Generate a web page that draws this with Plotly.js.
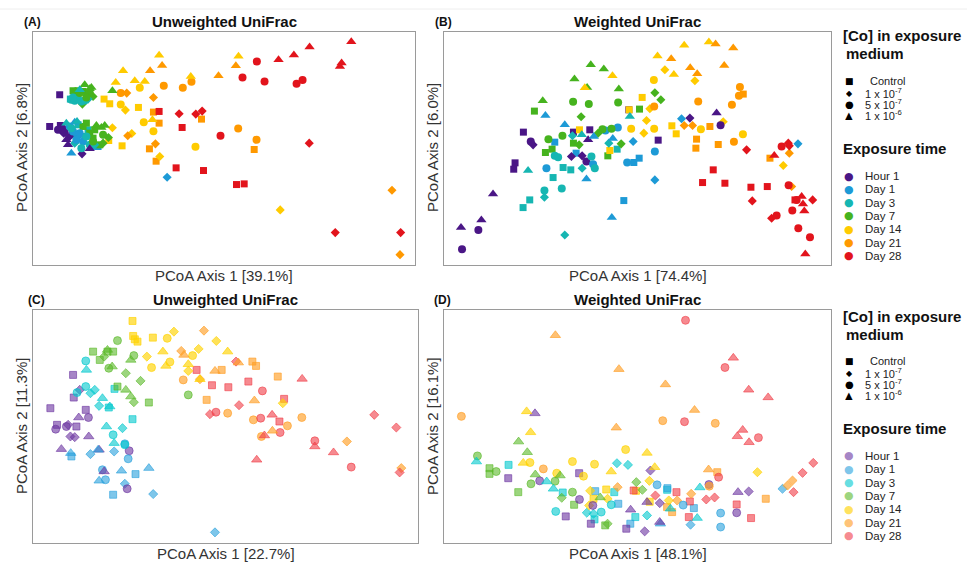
<!DOCTYPE html>
<html>
<head>
<meta charset="utf-8">
<script src="https://cdn.plot.ly/plotly-3.0.1.min.js"></script>
<style>html,body{margin:0;padding:0;background:#fff;}#chart{width:967px;height:564px;}</style>
</head>
<body>
<div id="chart"></div>
<script>
// ---------- categories ----------
const times = ["Hour 1", "Day 1", "Day 3", "Day 7", "Day 14", "Day 21", "Day 28"];
const concLabels = ["Control", "1 x 10<sup>-7</sup>", "5 x 10<sup>-7</sup>", "1 x 10<sup>-6</sup>"];
const panelTitles = ["Unweighted UniFrac", "Weighted UniFrac", "Unweighted UniFrac", "Weighted UniFrac"];
const panelLetters = ["(A)", "(B)", "(C)", "(D)"];
const axis1Labels = ["PCoA Axis 1 [39.1%]", "PCoA Axis 1 [74.4%]", "PCoA Axis 1 [22.7%]", "PCoA Axis 1 [48.1%]"];
const axis2Labels = ["PCoA Axis 2 [6.8%]", "PCoA Axis 2 [6.0%]", "PCoA Axis 2 [11.3%]", "PCoA Axis 2 [16.1%]"];

// ---------- data: [timeIndex, concIndex, PCoA1, PCoA2] (arbitrary units) ----------
const pointsA = [
 [0,0,80,510],[3,0,120,522],[3,0,135,522],[3,0,150,520],[3,0,128,518],
 [3,3,155,540],[3,3,175,532],[3,3,238,522],[3,3,170,528],
 [2,2,115,495],[2,2,125,492],[2,2,135,498],[2,2,145,490],[2,2,120,502],[2,2,155,493],
 [2,0,130,500],[2,0,112,497],[3,2,170,515],[3,2,160,502],[3,2,140,515],
 [3,1,148,482],[3,1,180,505],[2,1,165,497],[2,3,140,525],
 [0,0,50,415],[0,0,82,418],[0,2,75,405],[0,2,88,410],[0,2,95,398],
 [0,3,105,360],[0,3,170,348],[0,3,100,375],[0,1,147,333],[0,1,110,385],[0,1,92,395],
 [1,2,120,400],[1,2,140,395],[1,2,130,375],[1,2,150,370],[1,2,110,415],
 [1,3,115,335],[1,3,125,428],[1,0,175,355],[1,0,195,355],[1,0,118,390],[1,1,135,385],
 [2,2,115,410],[2,2,160,385],[2,2,170,360],[2,2,145,350],
 [2,0,135,420],[2,0,165,405],[2,0,155,385],[2,3,100,425],[2,3,132,430],[2,1,125,365],[2,1,185,360],
 [3,0,150,415],[3,0,170,395],[3,0,180,380],[3,0,185,405],[3,0,200,360],[3,0,160,425],
 [3,3,190,418],[3,3,205,412],[3,3,215,418],[3,2,180,370],[3,2,210,390],[3,1,210,365],[3,1,226,382],
 [4,3,378,628],[4,3,270,582],[4,3,248,547],[4,3,305,552],[4,3,335,550],[4,3,473,565],[4,3,616,625],[4,3,358,435],
 [4,2,320,531],[4,2,263,481],[4,2,332,428],[4,2,361,401],[4,2,487,354],
 [4,0,213,497],[4,0,230,483],[4,0,316,472],[4,0,267,357],[4,0,227,373],
 [4,1,277,464],[4,1,238,411],[4,1,296,394],[4,1,380,325],[4,1,741,165],
 [1,1,402,263],
 [5,3,351,582],[5,3,387,598],[5,3,608,597],[5,3,556,567],
 [5,2,392,537],[5,2,449,531],[5,2,475,549],[5,2,263,515],[5,2,615,409],[5,2,670,375],
 [5,0,361,458],[5,0,378,425],[5,0,505,437],[5,0,349,348],[5,0,369,311],[5,0,663,346],
 [5,1,281,515],[5,1,361,502],[5,1,284,387],[5,1,367,363],[5,1,1076,224],[5,1,1100,31],
 [6,3,736,615],[6,3,782,629],[6,3,829,653],[6,3,954,669],[6,3,925,605],[6,3,920,595],
 [6,2,671,610],[6,2,628,562],[6,2,694,550],[6,2,790,543],[6,2,808,554],[6,2,562,387],
 [6,0,378,460],[6,0,447,412],[6,0,429,291],[6,0,511,283],[6,0,610,241],[6,0,633,243],
 [6,1,438,453],[6,1,488,452],[6,1,507,461],[6,1,828,365],[6,1,906,97],[6,1,1102,97]
];

const pointsB = [
 [0,3,51,112],[0,3,112,135],[0,3,147,213],[0,3,817,455],[0,3,432,375],
 [0,2,54,47],[0,2,103,105],[0,2,427,310],[0,2,829,419],[0,2,260,370],
 [0,0,238,398],[0,0,213,306],[0,0,209,287],[0,0,388,398],[0,0,437,405],[0,0,642,374],[0,0,554,465],
 [0,1,267,360],[0,1,414,327],[0,1,382,325],[0,1,737,440],
 [1,3,304,448],[1,3,362,420],[1,3,427,258],[1,3,503,142],[1,3,506,379],[1,3,449,385],
 [1,2,307,290],[1,2,484,403],[1,2,521,412],[1,2,549,307],[1,2,632,340],[1,2,447,302],
 [1,0,332,368],[1,0,396,335],[1,0,539,193],[1,0,569,307],[1,0,585,320],
 [1,1,712,438],[1,1,632,255],[1,1,1061,363],[1,1,567,370],
 [2,3,252,283],[2,3,557,445],[2,3,413,390],
 [2,2,301,223],[2,2,353,229],[2,2,332,327],[2,2,342,323],[2,2,452,290],[2,2,442,325],
 [2,0,237,172],[2,0,257,195],[2,0,327,262],[2,0,357,292],[2,0,380,285],[2,0,519,347],
 [2,1,301,203],[2,1,362,90],[2,1,414,290],[2,1,385,387],[2,1,494,365],
 [3,3,296,492],[3,3,391,557],[3,3,440,600],[3,3,479,587],[3,3,429,532],[3,3,524,527],
 [3,2,387,489],[3,2,434,482],[3,2,522,487],[3,2,313,377],[3,2,355,387],[3,2,502,408],[3,2,475,407],
 [3,0,271,461],[3,0,304,337],[3,0,324,347],[3,0,388,365],[3,0,491,327],[3,0,586,467],
 [3,1,411,444],[3,1,405,360],[3,1,462,395],[3,1,531,363],[3,1,632,516],[3,1,650,495],
 [4,3,720,658],[4,3,794,668],[4,3,640,626],[4,3,689,571],[4,3,505,567],[4,3,422,531],
 [4,2,629,554],[4,2,561,408],[4,2,630,408],[4,2,770,407],[4,2,896,392],
 [4,0,594,502],[4,0,555,465],[4,0,683,417],[4,0,696,393],[4,0,497,343],[4,0,406,405],
 [4,1,662,585],[4,1,752,552],[4,1,617,468],[4,1,607,433],[4,1,599,395],[4,1,837,429],[4,1,1017,298],
 [5,3,814,662],[5,3,867,650],[5,3,681,618],[5,3,738,591],[5,3,759,573],[5,3,840,598],
 [5,2,630,475],[5,2,762,490],[5,2,863,480],[5,2,887,533],[5,2,884,507],[5,2,869,369],
 [5,0,897,512],[5,0,797,415],[5,0,757,377],[5,0,755,350],[5,0,822,361],[5,0,977,320],
 [5,1,720,418],[5,1,745,418],[5,1,1035,335],[5,1,1042,235],
 [6,3,990,328],[6,3,1072,205],[6,3,1076,183],[6,3,1080,162],[6,3,1083,33],
 [6,2,1012,355],[6,2,1033,239],[6,2,1057,195],[6,2,1044,163],[6,2,997,148],[6,2,1062,110],[6,2,1097,83],
 [6,0,775,247],[6,0,807,285],[6,0,842,245],[6,0,920,233],[6,0,969,235],[6,0,1052,195],
 [6,1,907,345],[6,1,1032,365],[6,1,1035,357],[6,1,924,192],[6,1,982,140],[6,1,1105,195]
];

const pointsC = [
 [0,0,52,405],[0,0,120,505],[0,0,122,437],[0,0,158,400],[0,0,72,355],[0,0,130,350],
 [0,2,68,342],[0,2,100,350],[0,2,166,377],[0,2,288,277],[0,2,282,163],
 [0,3,85,282],[0,3,137,377],[0,3,167,320],[0,3,198,280],[0,3,213,215],
 [0,1,112,320],[0,1,125,318],[0,1,105,355],[0,1,140,460],
 [1,0,115,260],[1,0,240,145],[1,0,307,207],
 [1,3,113,270],[1,3,198,187],[1,3,265,217],[1,3,347,225],[1,3,195,280],
 [1,2,275,298],[1,2,285,253],[1,2,208,220],[1,2,217,190],
 [1,1,172,267],[1,1,243,275],[1,1,360,147],[1,1,545,32],[1,1,275,178],
 [2,2,158,547],[2,2,158,470],[2,2,132,452],[2,2,240,325],[2,2,275,295],
 [2,3,160,520],[2,3,208,435],[2,3,220,350],[2,3,243,300],[2,3,230,410],
 [2,0,244,463],[2,0,298,372],[2,0,227,407],
 [2,1,172,450],[2,1,198,412],[2,1,268,345],[2,1,185,460],
 [3,0,180,575],[3,0,200,550],[3,0,240,575],[3,0,253,470],[3,0,347,422],[3,0,223,575],
 [3,2,253,608],[3,2,302,563],[3,2,227,525],[3,2,465,445],
 [3,3,223,580],[3,3,293,550],[3,3,237,530],[3,3,278,460],[3,3,293,440],
 [3,1,278,510],[3,1,322,487],[3,1,302,423],[3,1,213,560],
 [4,0,298,667],[4,0,300,622],[4,0,313,605],[4,0,359,617],[4,0,305,612],
 [4,2,355,527],[4,2,402,615],[4,2,410,544],[4,2,478,563],
 [4,3,389,575],[4,3,398,532],[4,3,465,537],[4,3,583,575],[4,3,500,492],
 [4,1,341,560],[4,1,422,635],[4,1,496,583],[4,1,549,607],[4,1,465,517],[4,1,748,420],
 [5,0,520,430],[5,0,565,520],[5,0,657,545],[5,0,668,532],[5,0,733,500],
 [5,2,450,490],[5,2,583,390],[5,2,660,370],[5,2,684,320],[5,2,762,352],[5,2,805,377],
 [5,3,452,565],[5,3,545,517],[5,3,615,542],[5,3,663,428],[5,3,717,337],
 [5,1,444,577],[5,1,512,638],[5,1,940,305],[5,1,1103,225],[5,1,500,492],
 [6,0,490,520],[6,0,536,474],[6,0,585,468],[6,0,645,485],[6,0,752,433],[6,0,738,365],
 [6,2,548,393],[6,2,687,457],[6,2,682,375],[6,2,740,332],[6,2,844,307],[6,2,953,228],
 [6,3,806,493],[6,3,716,385],[6,3,693,323],[6,3,670,250],[6,3,844,290],[6,3,900,272],
 [6,1,608,545],[6,1,530,387],[6,1,617,414],[6,1,1022,385],[6,1,1088,347],[6,1,1098,212]
];

const pointsD = [
 [3,3,223,305],[3,3,249,273],[3,3,273,206],[3,3,347,203],[3,3,467,137],
 [3,2,100,262],[3,2,156,215],[3,2,260,178],[3,2,332,186],[3,2,384,153],
 [3,0,136,225],[3,0,136,208],[3,0,222,153],[3,0,389,115],[3,0,482,53],
 [3,1,575,183],[3,1,593,160],[3,1,352,136],[3,1,489,58],
 [2,3,97,245],[2,3,307,185],[2,3,327,163],[2,3,677,103],[2,3,765,167],[2,3,757,75],
 [2,2,334,95],[2,2,470,93],[2,2,500,115],
 [2,0,193,235],[2,0,450,71],[2,0,572,78],[2,0,667,160],[2,0,509,153],[2,0,355,152],
 [2,1,517,240],[2,1,550,235],[2,1,427,91],[2,1,447,88],[2,1,607,83],
 [1,0,452,156],[1,0,521,118],[1,0,557,58],[1,0,668,165],[1,0,747,105],
 [1,2,637,175],[1,2,715,114],[1,2,827,90],[1,2,827,48],
 [1,1,1012,163],[1,1,737,55],[1,3,647,58],
 [0,3,272,390],[0,3,558,100],[0,3,607,123],[0,3,879,153],[0,3,645,63],
 [0,2,286,187],[0,2,405,131],[0,2,445,113],[0,2,792,176],[0,2,875,91],
 [0,0,192,195],[0,0,364,80],[0,0,404,210],[0,0,439,58],[0,0,545,43],
 [0,1,617,218],[0,1,645,120],[0,1,911,155],[0,1,600,35],
 [4,3,247,396],[4,3,259,333],[4,3,237,241],[4,3,500,215],[4,3,607,271],[4,3,630,228],
 [4,2,384,245],[4,2,450,237],[4,2,543,281],[4,2,337,210],[4,2,417,201],[4,2,257,242],
 [4,0,485,161],[4,0,447,133],[4,0,574,157],[4,0,615,124],
 [4,1,937,213],[4,1,614,187],[4,1,672,128],[4,1,437,157],[4,1,434,113],[4,1,489,133],
 [5,3,333,625],[5,3,523,523],[5,3,662,477],[5,3,749,400],[5,3,515,347],[5,3,791,221],
 [5,2,52,381],[5,2,654,368],[5,2,811,360],[5,2,297,223],[5,2,793,171],
 [5,0,962,133],[5,0,817,213],[5,0,667,108],[5,0,682,93],
 [5,1,519,168],[5,1,697,128],[5,1,739,148],[5,1,1042,188],[5,1,1027,173],
 [6,2,722,670],[6,2,840,528],[6,2,719,365],[6,2,940,317],[6,2,821,198],
 [6,3,865,557],[6,3,911,461],[6,3,969,438],[6,3,893,340],[6,3,877,321],[6,3,912,303],
 [6,0,695,153],[6,0,735,125],[6,0,732,78],[6,0,875,116],[6,0,918,75],[6,0,567,158],
 [6,1,1104,241],[6,1,1072,211],[6,1,1045,153],[6,1,784,131],[6,1,809,137],[6,1,632,143]
];

// ---------- styling ----------
const timeColors = ["#4a1686", "#1d9ad6", "#16b6b2", "#46b31e", "#ffcb00", "#ff9900", "#e2141c"];
const timeColorsFaded = ["rgba(106,52,160,0.6)", "rgba(40,160,220,0.6)", "rgba(0,200,205,0.6)", "rgba(90,185,40,0.6)", "rgba(255,210,0,0.65)", "rgba(255,160,40,0.65)", "rgba(240,60,70,0.6)"];
const concSymbols = ["square", "diamond", "circle", "triangle-up"];
const concSizes = [7, 7, 8, 9];

const W = 967, H = 564;
const boxes = [ // pixel boxes of the four plot areas [left, top, right, bottom]
  [33, 32, 415, 265], [444, 32, 831, 265], [33, 310, 418, 543], [444, 310, 831, 543]
];
const letterOffsets = [-11, -11, -7, -12];
const ranges = [[1145, 698], [1160, 698], [1153, 700], [1157, 701]];
const allPoints = [pointsA, pointsB, pointsC, pointsD];

const px = x => x / W, py = y => 1 - y / H;

const traces = [];
const layout = {
  width: W, height: H, margin: {l: 0, r: 0, t: 0, b: 0},
  paper_bgcolor: "#fff", plot_bgcolor: "#fff", showlegend: false,
  font: {family: "Liberation Sans, Arial, sans-serif", color: "#222"},
  annotations: [], shapes: [
    {type: "line", xref: "paper", yref: "paper", x0: 0, x1: 1, y0: py(9), y1: py(9), line: {color: "#eeeeee", width: 1}}
  ]
};

allPoints.forEach((pts, p) => {
  const ax = p === 0 ? "" : String(p + 1);
  const faded = p >= 2;
  for (let c = 0; c < 4; c++) {
    const sel = pts.filter(d => d[1] === c);
    traces.push({
      type: "scatter", mode: "markers", xaxis: "x" + ax, yaxis: "y" + ax,
      x: sel.map(d => d[2]), y: sel.map(d => d[3]),
      name: concLabels[c], hoverinfo: "skip",
      marker: {
        symbol: concSymbols[c], size: concSizes[c],
        color: sel.map(d => faded ? timeColorsFaded[d[0]] : timeColors[d[0]]),
        line: {width: faded ? 1 : 0, color: sel.map(d => faded ? timeColorsFaded[d[0]] : timeColors[d[0]])}
      }
    });
  }
  const b = boxes[p];
  const axCommon = {showgrid: false, zeroline: false, showticklabels: false, ticks: "",
    showline: true, mirror: true, linecolor: "#9a9a9a", linewidth: 1, fixedrange: true};
  layout["xaxis" + ax] = Object.assign({}, axCommon, {domain: [px(b[0]), px(b[2])], range: [0, ranges[p][0]], anchor: "y" + ax});
  layout["yaxis" + ax] = Object.assign({}, axCommon, {domain: [py(b[3]), py(b[1])], range: [0, ranges[p][1]], anchor: "x" + ax});

  const cx = (b[0] + b[2]) / 2;
  layout.annotations.push(
    {xref: "paper", yref: "paper", x: px(cx), y: py(b[1] - 11), text: "<b>" + panelTitles[p] + "</b>", showarrow: false, xanchor: "center", yanchor: "middle", font: {size: 15, color: "#111"}},
    {xref: "paper", yref: "paper", x: px(b[0] + letterOffsets[p]), y: py(b[1] - 10), text: "<b>" + panelLetters[p] + "</b>", showarrow: false, xanchor: "left", yanchor: "middle", font: {size: 12, color: "#111"}},
    {xref: "paper", yref: "paper", x: px(cx), y: py(b[3] + 10), text: axis1Labels[p], showarrow: false, xanchor: "center", yanchor: "middle", font: {size: 15, color: "#333"}},
    {xref: "paper", yref: "paper", x: px(b[0] - 12), y: py(b[1] + 116), text: axis2Labels[p], showarrow: false, textangle: -90, xanchor: "center", yanchor: "middle", font: {size: 15, color: "#333"}}
  );
});

// ---------- legends (drawn as text) ----------
const concGlyphs = ["\u25A0", "\u25C6", "\u25CF", "\u25B2"];
const glyphSizes = [9, 8, 10, 10];
[0, 280].forEach((off, li) => {
  const cols = li === 0 ? timeColors : timeColorsFaded;
  layout.annotations.push(
    {xref: "paper", yref: "paper", x: px(841), y: py(36 + off), text: "<b>[Co] in exposure</b>", showarrow: false, xanchor: "left", yanchor: "middle", font: {size: 15, color: "#111"}},
    {xref: "paper", yref: "paper", x: px(844), y: py(54 + off), text: "<b>medium</b>", showarrow: false, xanchor: "left", yanchor: "middle", font: {size: 15, color: "#111"}},
    {xref: "paper", yref: "paper", x: px(841), y: py(148 + off), text: "<b>Exposure time</b>", showarrow: false, xanchor: "left", yanchor: "middle", font: {size: 15, color: "#111"}}
  );
  const rowY = [81, 92.5, 103.5, 114.5];
  concLabels.forEach((lab, i) => {
    layout.annotations.push(
      {xref: "paper", yref: "paper", x: px(849), y: py(rowY[i] + off), text: concGlyphs[i], showarrow: false, xanchor: "center", yanchor: "middle", height: 10, borderpad: 0, font: {family: "DejaVu Sans", size: glyphSizes[i], color: "#000"}},
      {xref: "paper", yref: "paper", x: px(i === 0 ? 868 : 863), y: py(rowY[i] + off), text: lab, showarrow: false, xanchor: "left", yanchor: "middle", font: {size: 11, color: "#222"}}
    );
  });
  times.forEach((t, i) => {
    const yy = 176 + i * 13.3 + off;
    layout.annotations.push(
      {xref: "paper", yref: "paper", x: px(849), y: py(yy), text: "\u25CF", showarrow: false, xanchor: "center", yanchor: "middle", font: {family: "DejaVu Sans", size: 11, color: cols[i]}},
      {xref: "paper", yref: "paper", x: px(863), y: py(yy), text: t, showarrow: false, xanchor: "left", yanchor: "middle", font: {size: 11.5, color: "#222"}}
    );
  });
});

Plotly.newPlot("chart", traces, layout, {displayModeBar: false, staticPlot: true});
</script>
</body>
</html>
